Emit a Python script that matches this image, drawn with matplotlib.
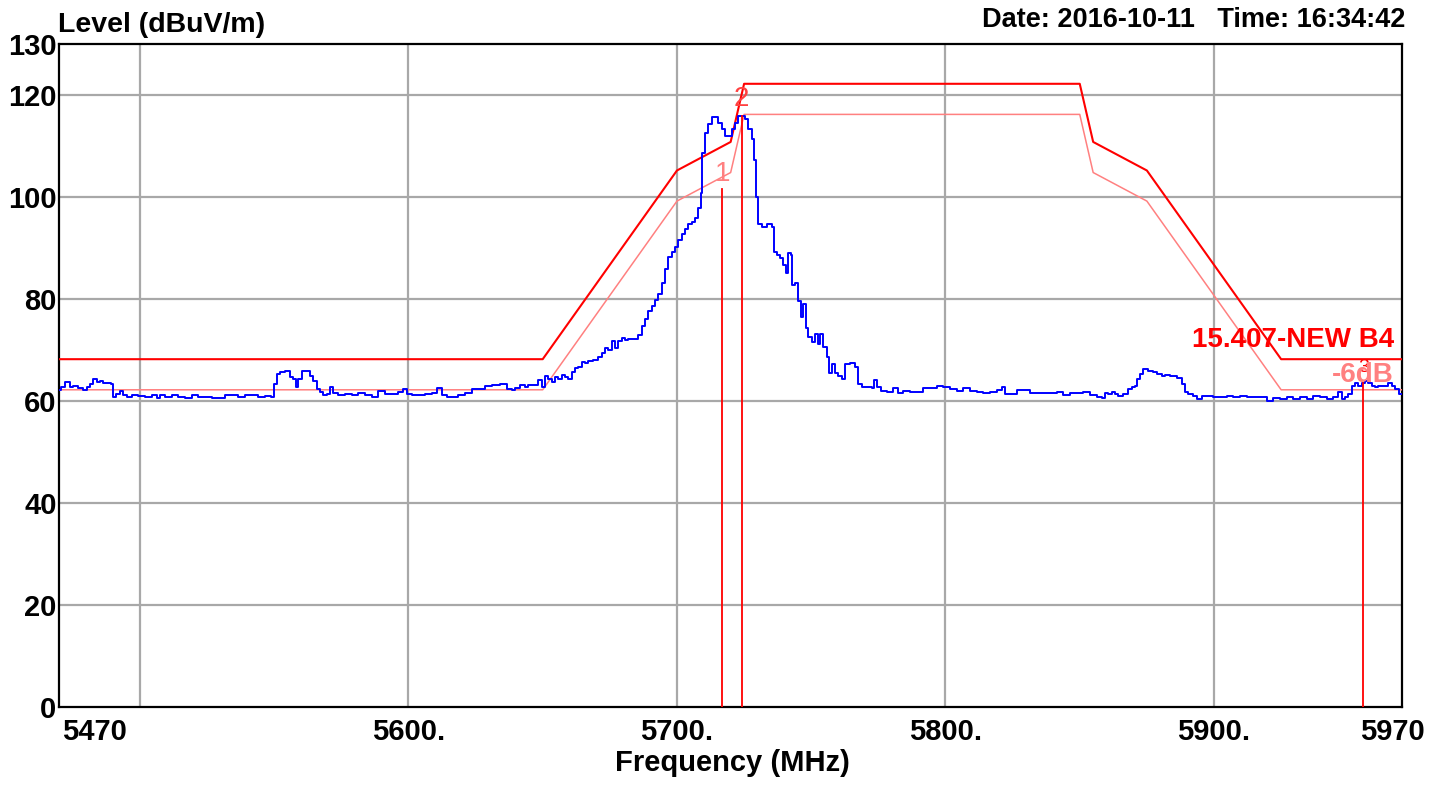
import matplotlib
matplotlib.use("Agg")
import matplotlib.pyplot as plt

plt.rcParams["font.family"] = ["Liberation Sans", "DejaVu Sans"]

# limit masks (FCC 15.407 b4) and the -6 dB margin line
mask_freq = [5470, 5650, 5700, 5720, 5725, 5850, 5855, 5875, 5925, 5970]
mask_level = [68.2, 68.2, 105.2, 110.8, 122.2, 122.2, 110.8, 105.2, 68.2, 68.2]
margin_level = [62.2, 62.2, 99.2, 104.8, 116.2, 116.2, 104.8, 99.2, 62.2, 62.2]

trace_freq = [
    5470.0, 5470.9, 5473.4, 5474.6, 5475.8, 5478.3, 5479.6, 5480.8, 5482.0, 5483.3,
    5484.5, 5485.8, 5487.0, 5488.9, 5489.7, 5490.2, 5492.0, 5493.2, 5494.4, 5495.7,
    5498.2, 5500.6, 5503.1, 5505.6, 5506.8, 5508.1, 5510.6, 5513.1, 5515.5, 5518.0,
    5520.5, 5523.0, 5525.5, 5528.0, 5530.4, 5532.9, 5535.4, 5537.9, 5540.4, 5542.8,
    5545.3, 5547.8, 5549.7, 5550.3, 5551.5, 5552.8, 5555.3, 5556.5, 5557.8, 5558.4,
    5559.6, 5561.5, 5562.7, 5564.0, 5565.2, 5566.5, 5567.7, 5568.9, 5570.2, 5571.4,
    5572.7, 5575.1, 5577.6, 5580.1, 5582.6, 5585.1, 5587.5, 5590.0, 5592.5, 5595.0,
    5597.5, 5598.7, 5599.9, 5602.4, 5604.9, 5607.4, 5609.9, 5611.7, 5613.6, 5614.8,
    5617.3, 5619.8, 5622.3, 5624.8, 5627.2, 5629.7, 5632.9, 5635.3, 5637.8, 5639.1,
    5640.3, 5642.8, 5644.0, 5645.3, 5647.8, 5649.0, 5650.2, 5651.5, 5652.7, 5654.0,
    5655.2, 5656.4, 5657.7, 5658.9, 5660.2, 5661.4, 5662.6, 5663.9, 5665.1, 5666.4,
    5667.6, 5670.1, 5671.3, 5672.6, 5673.8, 5675.1, 5676.3, 5677.5, 5678.8, 5680.0,
    5681.3, 5682.5, 5685.0, 5686.2, 5687.5, 5688.7, 5690.0, 5691.2, 5692.4, 5693.7,
    5694.9, 5696.2, 5697.4, 5698.7, 5699.9, 5701.1, 5702.4, 5703.6, 5704.9, 5706.1,
    5707.3, 5708.6, 5709.2, 5709.8, 5711.1, 5712.3, 5713.6, 5714.8, 5716.0, 5717.3,
    5718.5, 5719.8, 5721.0, 5722.2, 5723.5, 5724.7, 5726.0, 5727.2, 5728.5, 5729.1,
    5729.7, 5730.9, 5732.2, 5734.7, 5735.9, 5736.5, 5737.8, 5739.0, 5740.2, 5740.9,
    5742.1, 5742.7, 5743.3, 5744.6, 5745.8, 5746.4, 5747.7, 5748.3, 5749.6, 5750.8,
    5752.0, 5752.7, 5753.9, 5755.1, 5756.4, 5757.0, 5758.2, 5759.5, 5760.7, 5762.0,
    5763.2, 5765.7, 5766.9, 5768.2, 5769.4, 5771.9, 5773.1, 5773.8, 5775.0, 5776.9,
    5779.3, 5781.8, 5783.1, 5785.6, 5788.0, 5790.5, 5793.0, 5795.5, 5798.0, 5800.4,
    5802.9, 5805.4, 5807.9, 5810.4, 5812.9, 5815.4, 5817.8, 5820.3, 5821.6, 5822.8,
    5825.3, 5827.8, 5830.2, 5832.7, 5835.2, 5837.7, 5840.2, 5842.7, 5845.1, 5847.6,
    5850.1, 5852.6, 5855.1, 5857.6, 5858.8, 5860.0, 5861.3, 5862.5, 5863.8, 5865.0,
    5867.5, 5868.7, 5870.0, 5871.2, 5871.8, 5873.1, 5874.3, 5876.2, 5878.0, 5879.9,
    5881.1, 5882.4, 5884.9, 5887.4, 5888.6, 5889.8, 5891.1, 5892.9, 5894.8, 5896.0,
    5898.5, 5901.0, 5903.5, 5906.0, 5908.5, 5910.9, 5913.4, 5915.9, 5918.4, 5920.9,
    5923.4, 5925.8, 5928.3, 5930.8, 5933.3, 5935.8, 5938.3, 5940.7, 5943.2, 5945.7,
    5947.0, 5948.2, 5949.4, 5950.7, 5951.9, 5953.2, 5954.4, 5955.6, 5956.9, 5958.1,
    5959.4, 5960.6, 5961.8, 5964.3, 5965.6, 5966.8, 5968.1, 5970.0,
]
trace_level = [
    62.1, 62.7, 63.7, 62.7, 62.9, 62.5, 62.1, 62.7, 63.4, 64.3,
    63.8, 64.0, 63.6, 63.6, 63.4, 60.8, 61.4, 61.9, 61.1, 60.8,
    61.2, 61.0, 60.8, 61.2, 60.5, 61.1, 60.8, 61.2, 60.8, 60.5,
    61.2, 60.8, 60.8, 60.6, 60.5, 61.1, 61.2, 60.8, 61.1, 61.2,
    60.8, 61.0, 60.8, 63.4, 65.3, 65.6, 65.8, 64.7, 64.3, 62.7,
    64.3, 65.9, 65.9, 65.0, 64.0, 62.4, 61.7, 61.1, 61.4, 62.7,
    61.6, 61.2, 61.4, 61.1, 61.6, 61.2, 60.8, 61.9, 61.4, 61.4,
    61.7, 62.3, 61.4, 61.2, 61.2, 61.4, 61.6, 62.5, 61.1, 60.8,
    60.8, 61.1, 61.6, 62.3, 62.4, 63.0, 63.1, 63.4, 62.4, 62.1,
    62.6, 63.1, 62.8, 63.1, 63.2, 64.1, 62.8, 64.9, 64.4, 63.8,
    64.8, 64.4, 65.1, 64.8, 64.4, 65.7, 66.4, 66.7, 67.7, 67.4,
    67.9, 68.1, 68.7, 69.4, 70.4, 70.0, 71.8, 70.4, 71.7, 72.3,
    72.0, 72.2, 72.2, 73.0, 74.7, 76.0, 77.6, 78.6, 79.9, 80.9,
    83.2, 85.9, 88.2, 89.2, 90.2, 91.5, 92.8, 93.8, 94.8, 95.1,
    95.8, 97.8, 100.7, 108.6, 112.6, 114.3, 115.6, 115.6, 114.6, 113.3,
    111.9, 111.9, 113.3, 114.6, 115.9, 115.9, 115.2, 113.3, 111.3, 107.3,
    100.1, 94.8, 94.1, 94.8, 94.2, 89.3, 88.7, 88.0, 86.7, 85.1,
    89.0, 88.7, 82.8, 83.2, 79.6, 76.4, 79.0, 74.4, 72.5, 71.5,
    73.1, 71.2, 73.1, 70.6, 68.6, 65.4, 67.3, 65.4, 65.0, 64.4,
    67.3, 67.4, 66.7, 63.4, 62.8, 62.8, 62.5, 64.1, 62.8, 62.0,
    61.8, 62.5, 61.6, 62.0, 61.8, 61.8, 62.5, 62.5, 62.9, 62.8,
    62.3, 62.0, 62.5, 62.0, 61.8, 61.5, 61.8, 62.1, 62.8, 61.4,
    61.4, 62.1, 62.1, 61.6, 61.6, 61.6, 61.5, 61.8, 61.2, 61.6,
    61.5, 61.8, 61.2, 60.8, 60.5, 61.5, 61.4, 61.7, 61.4, 61.0,
    61.4, 62.3, 62.7, 63.0, 64.3, 65.3, 66.2, 65.9, 65.6, 65.3,
    65.0, 65.1, 65.0, 64.6, 63.3, 61.7, 61.4, 61.0, 60.4, 61.0,
    61.0, 60.8, 60.7, 61.0, 60.7, 61.0, 60.7, 60.8, 60.8, 60.0,
    60.6, 60.4, 60.7, 60.4, 60.7, 60.4, 61.0, 60.7, 60.4, 60.7,
    61.7, 60.4, 60.7, 61.4, 63.0, 63.6, 63.0, 63.6, 64.0, 63.6,
    63.0, 62.7, 63.0, 63.0, 63.6, 63.0, 62.3, 61.4,
]

# markers 1..3
marker_freq = [5716.9, 5724.1, 5955.6]
marker_level = [101.6, 115.8, 63.6]
marker_names = ["1", "2", "3"]

x_ticks = [5470, 5600, 5700, 5800, 5900, 5970]
x_labels = ["5470", "5600.", "5700.", "5800.", "5900.", "5970"]
x_grid = [5500, 5600, 5700, 5800, 5900]
y_ticks = [0, 20, 40, 60, 80, 100, 120, 130]
y_grid = [20, 40, 60, 80, 100, 120]

RED = "#ff0000"
PINK = "#ff8080"
BLUE = "#0000ff"

fig = plt.figure(figsize=(14.3, 7.86), dpi=100)
ax = fig.add_axes([0.0415, 0.1005, 0.9389, 0.8435])

for gx in x_grid:
    ax.axvline(gx, color="#a8a8a8", lw=1.6, zorder=1)
for gy in y_grid:
    ax.axhline(gy, color="#a8a8a8", lw=1.6, zorder=1)

ax.plot(mask_freq, mask_level, color=RED, lw=1.5, zorder=3)
ax.plot(mask_freq, margin_level, color=PINK, lw=1.1, zorder=3)
# analyzer trace is a staircase
ax.plot(trace_freq, trace_level, color=BLUE, lw=1.4, drawstyle="steps-mid", zorder=4)

for f, lv in zip(marker_freq, marker_level):
    ax.plot([f, f], [0, lv], color=RED, lw=1.3, zorder=5)
marker_colors = [PINK, "#ff4040", RED]
marker_sizes = [20, 20, 14]
marker_text_y = [102.0, 116.6, 65.0]
for f, name, c, s, ty in zip(marker_freq, marker_names, marker_colors, marker_sizes, marker_text_y):
    ax.text(f, ty, name, color=c, fontsize=s, ha="center", va="bottom", zorder=6)

ax.text(5967, 69.4, "15.407-NEW B4", color=RED, fontsize=20, fontweight="bold",
        ha="right", va="bottom", zorder=6)
ax.text(5967, 62.6, "-6dB", color=PINK, fontsize=20, fontweight="bold",
        ha="right", va="bottom", zorder=6)

ax.set_xlim(5470, 5970)
ax.set_ylim(0, 130)
ax.set_xticks(x_ticks)
ax.set_xticklabels([])
ax.set_yticks(y_ticks)
ax.set_yticklabels([str(v) for v in y_ticks], fontsize=21, fontweight="bold")
ax.tick_params(length=0, pad=2)

# x tick labels drawn by hand so the end labels can sit like the original
x_align = ["left", "center", "center", "center", "center", "center"]
x_shift = [1.0, 0.0, 0.0, 0.0, 0.0, -3.5]
for xv, lab, ha, dx in zip(x_ticks, x_labels, x_align, x_shift):
    ax.text(xv + dx, -0.016, lab, transform=ax.get_xaxis_transform(), fontsize=21,
            fontweight="bold", ha=ha, va="top")

for sp in ax.spines.values():
    sp.set_linewidth(1.6)
    sp.set_color("black")

fig.text(58 / 1430, 1 - 25 / 786, "Level (dBuV/m)", fontsize=20.5, fontweight="bold",
         ha="left", va="center")
fig.text(1405 / 1430, 1 - 20 / 786, "Date: 2016-10-11   Time: 16:34:42", fontsize=19.5,
         fontweight="bold", ha="right", va="center")
fig.text(732 / 1430, 1 - 763 / 786, "Frequency (MHz)", fontsize=21, fontweight="bold",
         ha="center", va="center")

fig.savefig("out.png", dpi=100)
